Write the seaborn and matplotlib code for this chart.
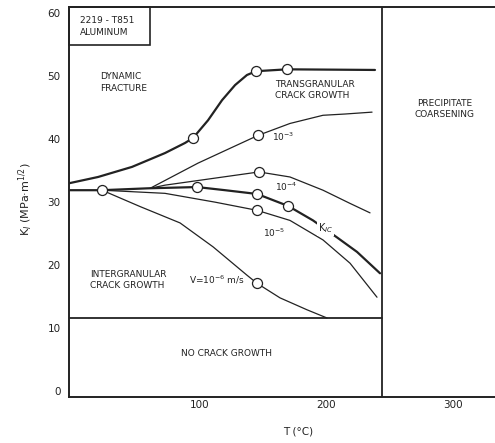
import numpy as np
import pandas as pd
import matplotlib
matplotlib.use("Agg")
import matplotlib.pyplot as plt
import seaborn as sns
from matplotlib.patches import Rectangle

# curves: temperature (C) and K_I (MPa m^1/2)
dyn_T = [-3.2, 19.8, 46.6, 72.7, 88.5, 94.9, 106.7, 117.8, 128.1, 137.5, 144.7, 169.2, 238.7]
dyn_K = [33.0, 34.0, 35.6, 37.8, 39.4, 40.2, 43.0, 46.2, 48.6, 50.2, 50.8, 51.1, 51.0]

v3_T = [60.9, 98.8, 125.7, 146.2, 171.5, 197.6, 215.0, 236.4]
v3_K = [32.2, 36.2, 38.7, 40.6, 42.5, 43.8, 44.0, 44.3]

v4_T = [60.9, 72.7, 147.0, 171.5, 197.6, 219.0, 234.8]
v4_K = [32.2, 32.7, 34.8, 34.0, 31.9, 29.8, 28.3]

kic_T = [-3.2, 22.9, 59.3, 98.0, 120.2, 145.5, 170.0, 189.7, 208.7, 224.5, 242.7]
kic_K = [31.9, 31.9, 32.2, 32.4, 31.9, 31.3, 29.4, 27.1, 24.4, 22.1, 18.7]

v5_T = [22.9, 72.7, 112.3, 145.5, 171.5, 197.6, 219.0, 240.3]
v5_K = [31.9, 31.4, 30.0, 28.7, 27.1, 24.0, 20.3, 14.9]

v6_T = [22.9, 53.0, 84.6, 110.7, 137.5, 145.5, 163.6, 185.0, 200.8]
v6_K = [31.9, 29.3, 26.7, 22.9, 18.4, 17.1, 14.8, 12.9, 11.6]

# measured points (open circles)
pts_T = [22.9, 94.9, 144.7, 169.2, 146.2, 147.0, 98.0, 145.5, 170.0, 145.5, 145.5]
pts_K = [31.9, 40.2, 50.8, 51.1, 40.6, 34.8, 32.4, 31.3, 29.4, 28.7, 17.1]

threshold_K = 11.6
coarsening_T = 244.3

y_ticks = [0, 10, 20, 30, 40, 50, 60]
x_ticks = [100, 200, 300]

sns.set_style("white")
plt.rcParams['font.family'] = ['DejaVu Sans']

ink = "#222222"
fig = plt.figure(figsize=(4.95, 4.43), dpi=100)
ax = fig.add_axes([69 / 495, 46 / 443, 426 / 495, 390 / 443])

thin = 0.9
thick = 1.6
for T, K, lw in [(dyn_T, dyn_K, thick), (v3_T, v3_K, thin), (v4_T, v4_K, thin),
                 (kic_T, kic_K, thick), (v5_T, v5_K, thin), (v6_T, v6_K, thin)]:
    sns.lineplot(x=T, y=K, ax=ax, color=ink, lw=lw, sort=False, estimator=None)

ax.axhline(threshold_K, xmin=0, xmax=(coarsening_T + 3.2) / (333.6 + 3.2), color=ink, lw=1.3)
ax.axvline(coarsening_T, color=ink, lw=1.3)

sns.scatterplot(x=pts_T, y=pts_K, ax=ax, s=52, facecolor="white",
                edgecolor=ink, linewidth=0.9, zorder=5)

ax.set_xlim(-3.2, 333.6)
ax.set_ylim(-0.95, 61.0)
ax.set_xticks(x_ticks)
ax.set_yticks(y_ticks)
ax.tick_params(length=0, labelsize=7.5, colors=ink)
ax.tick_params(axis='y', pad=6)
ax.tick_params(axis='x', pad=2)
for s in ['left', 'top', 'bottom']:
    ax.spines[s].set_color(ink)
    ax.spines[s].set_linewidth(1.4)
ax.spines['right'].set_visible(False)

# alloy box
ax.add_patch(Rectangle((-3.2, 54.9), 64.1, 6.1, fill=False, ec=ink, lw=1.2, clip_on=False))
fs = 6.5
ax.text(5.5, 57.9, "2219 - T851\nALUMINUM", fontsize=fs, color=ink, va='center', linespacing=1.3)
ax.text(21.3, 49.0, "DYNAMIC\nFRACTURE", fontsize=fs, color=ink, va='center', linespacing=1.3)
ax.text(159.7, 47.8, "TRANSGRANULAR\nCRACK GROWTH", fontsize=fs, color=ink, va='center', linespacing=1.3)
ax.text(294, 44.8, "PRECIPITATE\nCOARSENING", fontsize=fs, color=ink, va='center', ha='center', linespacing=1.3)
ax.text(157, 40.4, "10$^{-3}$", fontsize=fs, color=ink, va='center')
ax.text(159.7, 32.4, "10$^{-4}$", fontsize=fs, color=ink, va='center')
ax.text(150, 25.2, "10$^{-5}$", fontsize=fs, color=ink, va='center')
ax.text(193.5, 25.9, "K$_{IC}$", fontsize=fs + 0.5, color=ink, va='center', zorder=6,
        bbox=dict(fc='white', ec='none', pad=0.5))
ax.text(92.0, 17.6, "V=10$^{-6}$ m/s", fontsize=fs, color=ink, va='center')
ax.text(13.4, 17.6, "INTERGRANULAR\nCRACK GROWTH", fontsize=fs, color=ink, va='center', linespacing=1.3)
ax.text(121.7, 6.0, "NO CRACK GROWTH", fontsize=fs, color=ink, va='center', ha='center')

ax.set_xlabel("")
ax.set_ylabel("")
fig.text(26 / 495, 1 - 199 / 443, "K$_I$ (MPa·m$^{1/2}$)", rotation=90, fontsize=8,
         color=ink, ha='center', va='center')
fig.text(298 / 495, 1 - 432 / 443, "T (°C)", fontsize=7.5, color=ink, ha='center', va='center')

fig.savefig("out.png", dpi=100, facecolor="white")
